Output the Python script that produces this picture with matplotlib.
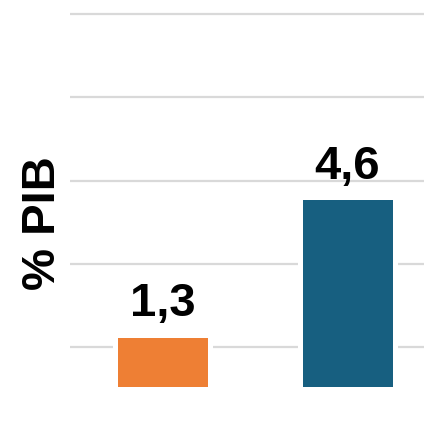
import matplotlib.pyplot as plt

plt.rcParams["font.family"] = ["Liberation Sans", "DejaVu Sans"]

categories = ["A", "B"]
values = [1.3, 4.6]
labels = ["1,3", "4,6"]
colors = ["#EE7F34", "#175F80"]
grid_ticks = [1, 3, 5, 7, 9]

W, H = 424, 429
fig = plt.figure(figsize=(W / 100, H / 100), dpi=100)
# axes in pixel terms: left 70, zero line at y=389
px_per_unit = 41.65
ax_h = 389 / H
ax = fig.add_axes([70 / W, (H - 389) / H, 354 / W, ax_h])

x = list(range(len(categories)))
ax.bar(x, values, width=0.515, color=colors, edgecolor="white",
       linewidth=3.6, zorder=3)

for xi, v, lab in zip(x, values, labels):
    ax.annotate(lab, (xi, v), textcoords="offset points", xytext=(0, 13.5),
                ha="center", va="baseline", fontsize=34, fontweight="bold",
                color="black")

ax.set_xlim(-0.501, 1.417)
ax.set_ylim(0, 389 / px_per_unit)
ax.set_yticks(grid_ticks)
ax.grid(axis="y", color="#D9D9D9", linewidth=1.6, zorder=0)
ax.set_axisbelow(True)
ax.tick_params(left=False, bottom=False, labelleft=False, labelbottom=False)
for s in ax.spines.values():
    s.set_visible(False)

fig.text(43 / W, 1 - 223 / H, "% PIB", rotation=90, ha="center", va="center",
         fontsize=34, fontweight="bold")

fig.savefig("out.png", dpi=100)
